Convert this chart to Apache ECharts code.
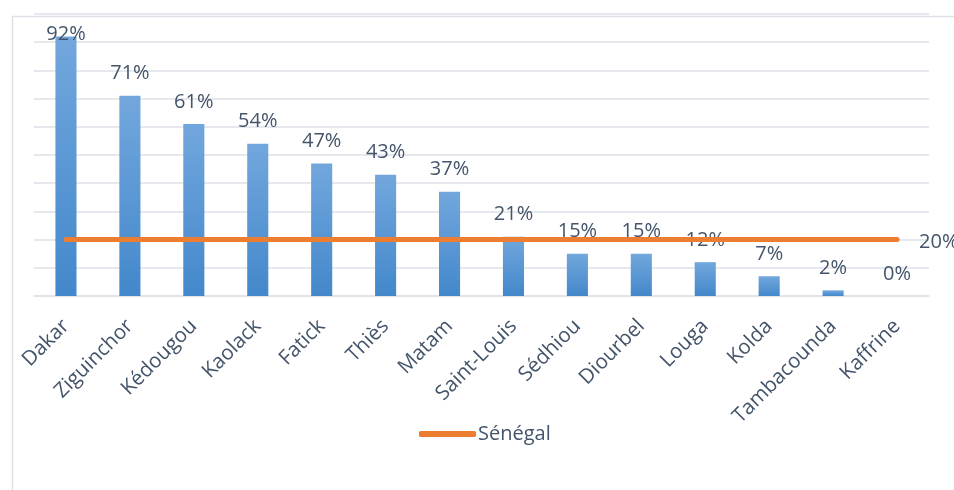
<!DOCTYPE html>
<html>
<head>
<meta charset="utf-8">
<script src="https://cdn.jsdelivr.net/npm/echarts@6/dist/echarts.min.js"></script>
<style>
html,body{margin:0;padding:0;background:#fff;}
#chart{width:954px;height:490px;}
</style>
</head>
<body>
<div id="chart"></div>
<script>
const categories = ['Dakar','Ziguinchor','Kédougou','Kaolack','Fatick','Thiès','Matam','Saint-Louis','Sédhiou','Diourbel','Louga','Kolda','Tambacounda','Kaffrine'];
const regionValues = [92, 71, 61, 54, 47, 43, 37, 21, 15, 15, 12, 7, 2, 0];
const senegalValue = 20;
const senegalName = 'Sénégal';

const textColor = '#44546A';
const font = 'Open Sans';

const barData = regionValues.map((v, i) => {
  const item = { value: v };
  if (i === 0) item.label = { offset: [0, 20] };
  return item;
});
const lineData = categories.map(() => senegalValue);

const chart = echarts.init(document.getElementById('chart'));
chart.setOption({
  animation: false,
  textStyle: { fontFamily: font },
  graphic: [{
    type: 'rect', left: 10, top: 14,
    shape: { width: 1000, height: 520 },
    style: { fill: 'none', stroke: '#DDE2E9', lineWidth: 1.5 },
    silent: true
  }],
  grid: { left: 34, right: 25, top: 14, bottom: 194, containLabel: false },
  legend: {
    data: [{ name: senegalName, icon: 'roundRect' }],
    left: 419, top: 424, padding: 0,
    itemWidth: 57, itemHeight: 6, itemGap: 10,
    textStyle: { color: textColor, fontSize: 20, fontFamily: font, padding: [0, 0, 0, -3] }
  },
  xAxis: {
    type: 'category',
    data: categories,
    axisLine: { lineStyle: { color: '#DDE2E9', width: 1.5 } },
    axisTick: { show: false },
    axisLabel: { rotate: 45, color: textColor, fontSize: 20.5, fontFamily: font, margin: 27, interval: 0 }
  },
  yAxis: {
    type: 'value', min: 0, max: 100, interval: 10,
    axisLabel: { show: false },
    axisLine: { show: false }, axisTick: { show: false },
    splitLine: { lineStyle: { color: '#DDE2E9', width: 1.5 } }
  },
  series: [{
    name: 'Régions',
    type: 'bar',
    data: barData,
    barWidth: '33%',
    itemStyle: {
      color: new echarts.graphic.LinearGradient(0, 0, 0, 1, [
        { offset: 0, color: '#72A7DD' },
        { offset: 1, color: '#4388CB' }
      ])
    },
    label: {
      show: true, position: 'top', distance: 12,
      formatter: p => p.value + '%',
      color: textColor, fontSize: 20, fontFamily: font
    },
    z: 2
  }, {
    name: senegalName,
    type: 'line',
    data: lineData,
    symbol: 'none',
    showSymbol: false,
    color: '#ED7D31',
    lineStyle: { color: '#ED7D31', width: 5, cap: 'round' },
    endLabel: {
      show: true, distance: 22,
      formatter: p => p.value + '%',
      color: textColor, fontSize: 20, fontFamily: font,
      offset: [0, 3]
    },
    z: 3
  }]
});
</script>
</body>
</html>
